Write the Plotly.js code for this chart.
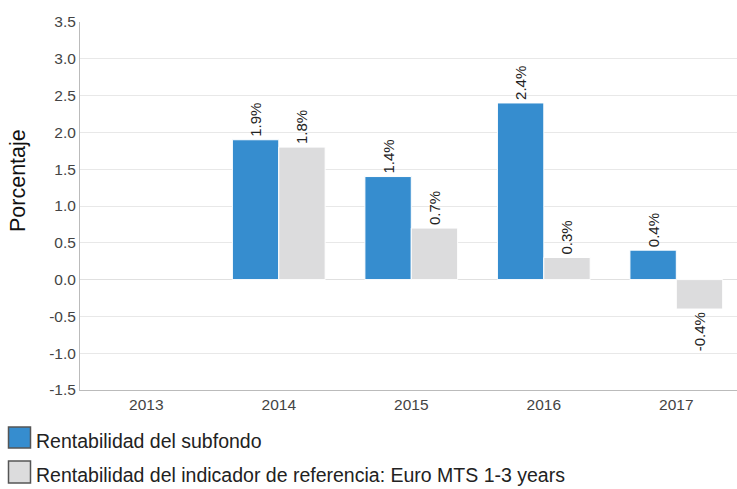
<!DOCTYPE html>
<html><head><meta charset="utf-8">
<script src="https://cdn.plot.ly/plotly-3.0.1.min.js"></script>
<style>html,body{margin:0;padding:0;background:#fff}#chart{width:737px;height:489px}</style>
</head><body><div id="chart"></div>
<script>
var years = ['2013','2014','2015','2016','2017'];
var fundValues = [null, 1.9, 1.4, 2.4, 0.4];
var benchValues = [null, 1.8, 0.7, 0.3, -0.4];
var fundName = 'Rentabilidad del subfondo';
var benchName = 'Rentabilidad del indicador de referencia: Euro MTS 1-3 years';
var yTitle = 'Porcentaje';
var yTicks = [-1.5,-1.0,-0.5,0,0.5,1.0,1.5,2.0,2.5,3.0,3.5];
var fundColor = '#368dcf', benchColor = '#dcdcdd';

function labels(arr){return arr.map(function(v){return v===null?'':v.toFixed(1)+'%';});}

var common = {type:'bar', textposition:'outside', textangle:-90, cliponaxis:false,
  textfont:{size:15,color:'#222'}, hoverinfo:'none', showlegend:false};
var t1 = Object.assign({}, common, {x:years, y:fundValues, name:fundName, text:labels(fundValues),
  marker:{color:fundColor, line:{color:'#ffffff', width:1}}});
var t2 = Object.assign({}, common, {x:years, y:benchValues, name:benchName, text:labels(benchValues),
  marker:{color:benchColor, line:{color:'#ffffff', width:1}}});

// plot area in pixels: x 80..737, y 22..390
var L=80, W=657, T=22, H=368;
function px(x){return (x-L)/W;}
function py(y){return (T+H-y)/H;}

var legendItems = [
  {name:fundName, color:fundColor, top:427, bottom:448, mid:441},
  {name:benchName, color:benchColor, top:461, bottom:483, mid:475}
];
var shapes = [], annotations = [];
legendItems.forEach(function(it){
  shapes.push({type:'rect', xref:'paper', yref:'paper', x0:px(8.5), x1:px(30.5), y0:py(it.bottom), y1:py(it.top),
    fillcolor:it.color, line:{color:'#555555', width:1.5}, layer:'above'});
  annotations.push({xref:'paper', yref:'paper', x:px(34), y:py(it.mid), xanchor:'left', yanchor:'middle',
    text:it.name, showarrow:false, font:{size:19.5, color:'#222'}});
});
annotations.push({xref:'paper', yref:'paper', x:px(18), y:py(181), xanchor:'center', yanchor:'middle',
  text:yTitle, textangle:-90, showarrow:false, font:{size:21.5, color:'#111'}});

var layout = {
  width:737, height:489,
  margin:{l:80, r:0, t:22, b:99},
  font:{family:'Liberation Sans, Arial, sans-serif', color:'#444'},
  paper_bgcolor:'#fff', plot_bgcolor:'#fff',
  barmode:'group', bargap:0.3, bargroupgap:0,
  showlegend:false,
  xaxis:{type:'category', range:[-0.5, 4.458], showgrid:false, showline:true, linecolor:'#bbbbbb', linewidth:1,
    ticks:'', tickfont:{size:15.5,color:'#444'}, zeroline:false},
  yaxis:{range:[-1.5,3.5], tickvals:yTicks, ticktext:yTicks.map(function(v){return v.toFixed(1);}),
    showgrid:true, gridcolor:'#e8e8e8', showline:true, linecolor:'#bbbbbb', linewidth:1,
    zeroline:true, zerolinecolor:'#e0e0e0', zerolinewidth:1,
    tickfont:{size:15.5,color:'#444'}, ticks:'', ticklen:0},
  shapes:shapes, annotations:annotations
};
Plotly.newPlot('chart',[t1,t2],layout,{staticPlot:true});
</script></body></html>
